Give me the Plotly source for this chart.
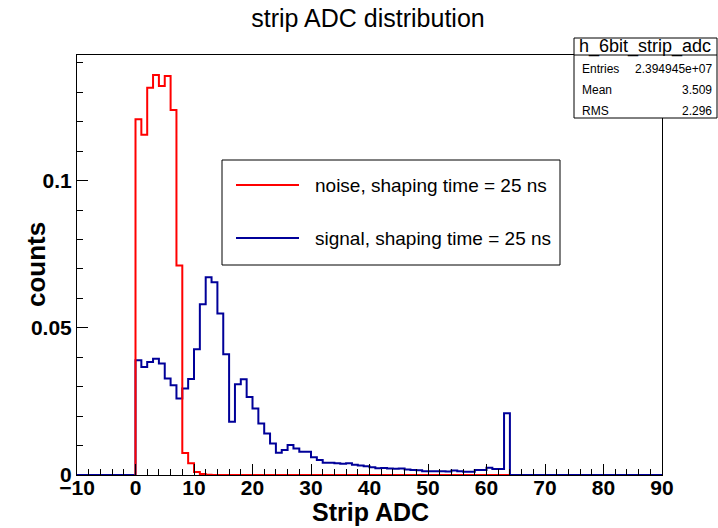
import plotly.graph_objects as go

# histogram contents, 1 ADC count per bin, first bin starts at 0
bin_start = 0
noise_counts = [0.1209, 0.1156, 0.1316, 0.1359, 0.1322, 0.1356, 0.1240, 0.0712,
                0.0075, 0.0040, 0.0010, 0.0003, 0.0001, 0, 0, 0,
                0, 0, 0, 0, 0, 0, 0, 0, 0, 0, 0, 0, 0, 0, 0, 0,
                0, 0, 0, 0, 0, 0, 0, 0, 0, 0, 0, 0, 0, 0, 0, 0,
                0, 0, 0, 0, 0, 0, 0, 0, 0, 0, 0, 0, 0, 0, 0, 0]
signal_counts = [0.0390, 0.0367, 0.0384, 0.0395, 0.0379, 0.0328, 0.0305, 0.0260,
                 0.0294, 0.0326, 0.0427, 0.0580, 0.0672, 0.0655, 0.0549, 0.0410,
                 0.0181, 0.0308, 0.0325, 0.0265, 0.0226, 0.0175, 0.0141, 0.0107,
                 0.0076, 0.0085, 0.0102, 0.0090, 0.0079, 0.0079, 0.0060, 0.0051,
                 0.0042, 0.0042, 0.0040, 0.0038, 0.0040, 0.0035, 0.0032, 0.0030,
                 0.0026, 0.0023, 0.0024, 0.0022, 0.0021, 0.0022, 0.0019, 0.0017,
                 0.0016, 0.0013, 0.0013, 0.0013, 0.0013, 0.0012, 0.0015, 0.0013,
                 0.0011, 0.0011, 0.0017, 0.0017, 0.0025, 0.0020, 0.0020, 0.0210]

x_range = [-10, 90]
y_max = 1.05 * max(noise_counts)

stats_name = "h_6bit_strip_adc"
stats_rows = [("Entries", "2.394945e+07"), ("Mean", "3.509"), ("RMS", "2.296")]
legend_labels = ["noise, shaping time = 25 ns", "signal, shaping time = 25 ns"]

RED = "#ff0000"
BLUE = "#000099"
FONT = "Liberation Sans, Arial, Helvetica, sans-serif"


def step(counts, lo, hi):
    # ROOT-like outline: empty bins in [lo, hi) drawn at zero
    edges = list(range(lo, hi + 1))
    vals = []
    for e in edges[:-1]:
        i = e - bin_start
        vals.append(counts[i] if 0 <= i < len(counts) else 0)
    return edges, vals + [vals[-1]]


# plot frame in pixels
L, R, T, B = 77, 662, 55, 475


def xp(px):
    return (px - L) / (R - L)


def yp(py):
    return (B - py) / (B - T)


fig = go.Figure()

sx, sy = step(signal_counts, x_range[0], x_range[1])
fig.add_trace(go.Scatter(x=sx, y=sy, mode="lines", line=dict(color=BLUE, width=2, shape="hv"),
                         name=legend_labels[1], hoverinfo="skip"))

n_hi = bin_start + len(noise_counts)
nx, ny = step(noise_counts, bin_start, n_hi)
nx = [bin_start] + nx
ny = [0] + ny[:-1] + [0]
fig.add_trace(go.Scatter(x=nx, y=ny, mode="lines", line=dict(color=RED, width=2, shape="hv"),
                         name=legend_labels[0], hoverinfo="skip"))

axis_common = dict(showgrid=False, zeroline=False, showline=True, linecolor="black", linewidth=1,
                   mirror=True, ticks="inside", tickcolor="black", ticklen=11, tickwidth=1,
                   tickfont=dict(family=FONT, size=21, color="black", weight="bold"))
fig.update_xaxes(range=x_range, dtick=10, tick0=0, ticklabelstandoff=-6,
                 minor=dict(ticks="inside", dtick=2, ticklen=6, tickcolor="black"),
                 **axis_common)
fig.update_yaxes(range=[0, y_max], dtick=0.05, tick0=0,
                 minor=dict(ticks="inside", dtick=0.01, ticklen=6, tickcolor="black"),
                 **axis_common)

shapes = []
annotations = []

# legend box
shapes.append(dict(type="rect", xref="paper", yref="paper", x0=xp(222), x1=xp(560),
                   y0=yp(265), y1=yp(160), line=dict(color="black", width=1), fillcolor="white"))
for k, (col, py) in enumerate([(RED, 185), (BLUE, 238)]):
    shapes.append(dict(type="line", xref="paper", yref="paper", x0=xp(236), x1=xp(299),
                       y0=yp(py), y1=yp(py), line=dict(color=col, width=2)))
    annotations.append(dict(text=legend_labels[k], xref="paper", yref="paper", x=xp(313), y=yp(py),
                            xanchor="left", yanchor="middle", showarrow=False,
                            font=dict(family=FONT, size=19, color="black")))

# stats box
shapes.append(dict(type="rect", xref="paper", yref="paper", x0=xp(574), x1=xp(717),
                   y0=yp(118), y1=yp(38), line=dict(color="black", width=1), fillcolor="white"))
shapes.append(dict(type="line", xref="paper", yref="paper", x0=xp(574), x1=xp(717),
                   y0=yp(55), y1=yp(55), line=dict(color="black", width=1)))
annotations.append(dict(text=stats_name, xref="paper", yref="paper", x=xp(645), y=yp(46),
                        xanchor="center", yanchor="middle", showarrow=False,
                        font=dict(family=FONT, size=18, color="black")))
for k, (lab, val) in enumerate(stats_rows):
    py = 69 + 21 * k
    annotations.append(dict(text=lab, xref="paper", yref="paper", x=xp(580), y=yp(py),
                            xanchor="left", yanchor="middle", showarrow=False,
                            font=dict(family=FONT, size=12, color="black")))
    annotations.append(dict(text=val, xref="paper", yref="paper", x=xp(714), y=yp(py),
                            xanchor="right", yanchor="middle", showarrow=False,
                            font=dict(family=FONT, size=12, color="black")))

# axis titles
annotations.append(dict(text="Strip ADC", xref="paper", yref="paper", x=xp(370), y=yp(512),
                        xanchor="center", yanchor="middle", showarrow=False,
                        font=dict(family=FONT, size=25, color="black", weight="bold")))
annotations.append(dict(text="counts", xref="paper", yref="paper", x=xp(36), y=yp(265),
                        xanchor="center", yanchor="middle", showarrow=False, textangle=-90,
                        font=dict(family=FONT, size=26, color="black", weight="bold")))

fig.update_layout(
    width=718, height=528,
    margin=dict(l=L, r=718 - R, t=T, b=528 - B),
    paper_bgcolor="white", plot_bgcolor="white",
    showlegend=False,
    title=dict(text="strip ADC distribution", x=368 / 718, xanchor="center", y=1 - 18 / 528,
               yanchor="middle", font=dict(family=FONT, size=25, color="black")),
    shapes=shapes, annotations=annotations,
)

fig.write_html("out.html", config={"displayModeBar": False},
               post_script="document.body.style.margin='0';")
